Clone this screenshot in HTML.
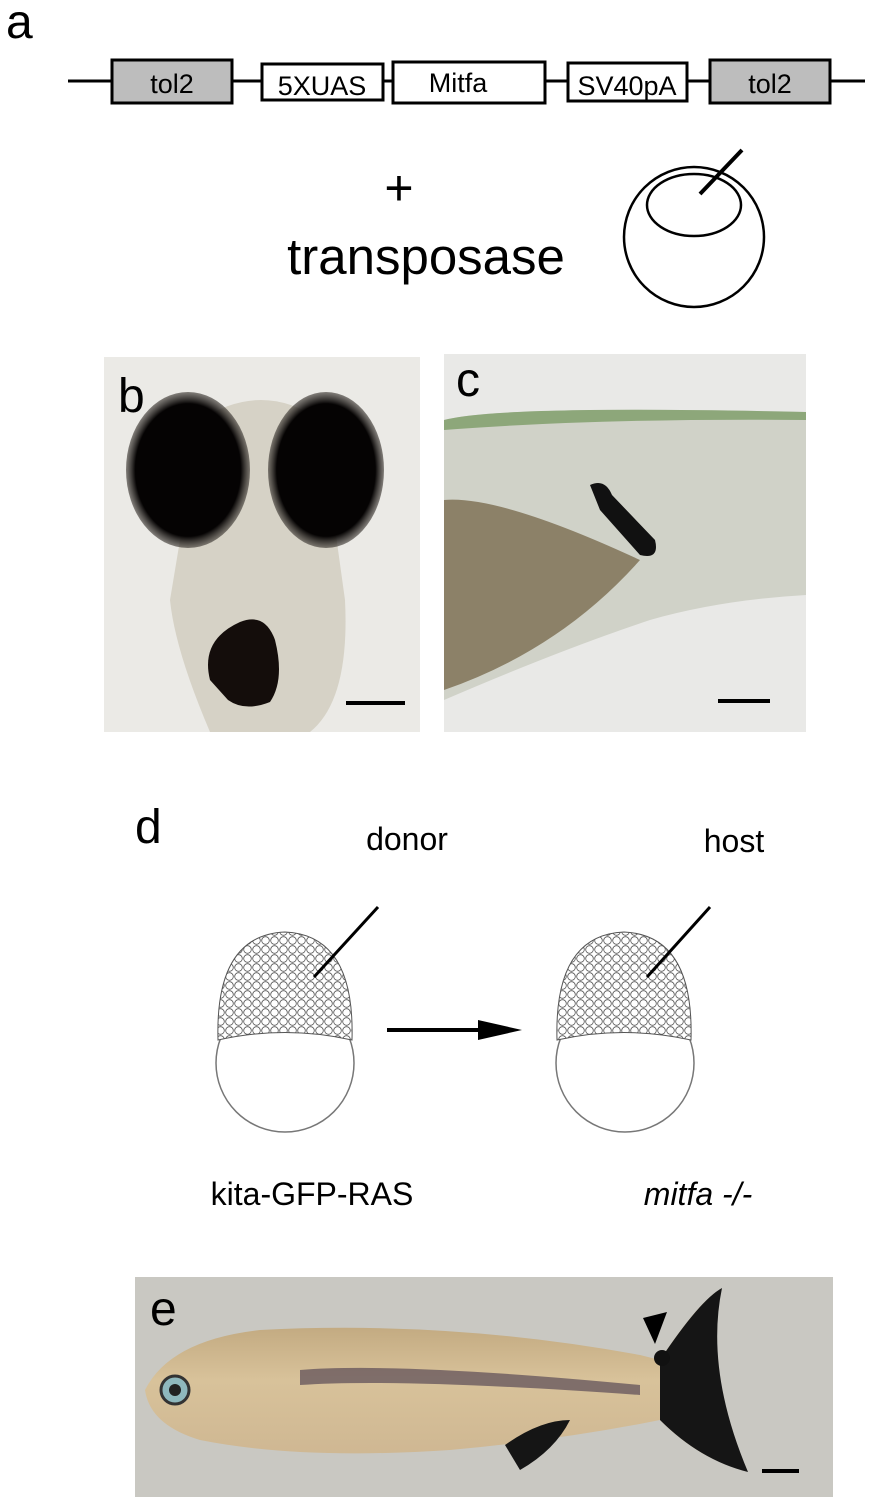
<!DOCTYPE html>
<html><head><style>
body{margin:0;background:#fff;width:887px;height:1507px;overflow:hidden;font-family:"Liberation Sans",sans-serif}
</style></head><body>
<svg width="887" height="1507" viewBox="0 0 887 1507" xmlns="http://www.w3.org/2000/svg" font-family="Liberation Sans, sans-serif">
<defs>
<radialGradient id="eye" cx="50%" cy="50%" r="50%"><stop offset="85%" stop-color="#050303"/><stop offset="100%" stop-color="#3a3530" stop-opacity="0.6"/></radialGradient>
<linearGradient id="fish" x1="0" y1="0" x2="0" y2="1"><stop offset="0" stop-color="#b49a70"/><stop offset="0.5" stop-color="#d8c29a"/><stop offset="1" stop-color="#cdb591"/></linearGradient>
<pattern id="cells" width="9" height="9" patternUnits="userSpaceOnUse"><rect width="9" height="9" fill="#fff"/><circle cx="4.5" cy="4.5" r="3.8" fill="#fff" stroke="#555" stroke-width="0.8"/></pattern>
</defs>
<!-- a -->
<text x="6" y="38" font-size="48">a</text>
<line x1="68" y1="81" x2="865" y2="81" stroke="#000" stroke-width="3"/>
<rect x="112" y="60" width="120" height="43" fill="#bdbdbd" stroke="#000" stroke-width="3"/>
<text x="172" y="93" font-size="27" text-anchor="middle">tol2</text>
<rect x="262" y="64" width="121" height="36" fill="#fff" stroke="#000" stroke-width="3"/>
<text x="322" y="95" font-size="27" text-anchor="middle">5XUAS</text>
<rect x="393" y="62" width="152" height="41" fill="#fff" stroke="#000" stroke-width="3"/>
<text x="458" y="92" font-size="27" text-anchor="middle">Mitfa</text>
<rect x="568" y="63" width="119" height="38" fill="#fff" stroke="#000" stroke-width="3"/>
<text x="627" y="95" font-size="27" text-anchor="middle">SV40pA</text>
<rect x="710" y="60" width="120" height="43" fill="#bdbdbd" stroke="#000" stroke-width="3"/>
<text x="770" y="93" font-size="27" text-anchor="middle">tol2</text>
<text x="399" y="205" font-size="50" text-anchor="middle">+</text>
<text x="426" y="274" font-size="51" text-anchor="middle">transposase</text>
<circle cx="694" cy="237" r="70" fill="none" stroke="#000" stroke-width="2.5"/>
<ellipse cx="694" cy="205" rx="47" ry="31" fill="#fff" stroke="#000" stroke-width="2.5"/>
<line x1="700" y1="194" x2="742" y2="150" stroke="#000" stroke-width="4"/>
<!-- b -->
<rect x="104" y="357" width="316" height="375" fill="#ebeae6"/>
<path d="M200 420 Q262 380 320 420 L345 600 Q350 700 310 732 L210 732 Q175 650 170 600 Z" fill="#d6d2c6"/>
<ellipse cx="188" cy="470" rx="62" ry="78" fill="url(#eye)"/>
<ellipse cx="326" cy="470" rx="58" ry="78" fill="url(#eye)"/>
<path d="M210 680 Q200 640 240 622 Q265 612 275 640 Q285 680 270 702 Q245 712 228 700 Z" fill="#140d0b"/>
<line x1="346" y1="703" x2="405" y2="703" stroke="#000" stroke-width="4"/>
<text x="118" y="412" font-size="48">b</text>
<!-- c -->
<rect x="444" y="354" width="362" height="378" fill="#e9e9e7"/>
<path d="M444 420 Q500 405 806 412 L806 595 Q720 600 650 620 Q560 650 444 700 Z" fill="#d0d2c8"/>
<path d="M444 420 Q500 405 806 412 L806 420 Q600 418 444 430 Z" fill="#8da77a"/>
<path d="M444 500 Q500 495 640 560 Q560 650 444 690 Z" fill="#8c8168"/>
<path d="M590 485 Q605 478 612 495 L655 540 Q660 560 640 555 L600 510 Z" fill="#111"/>
<line x1="718" y1="701" x2="770" y2="701" stroke="#000" stroke-width="4"/>
<text x="456" y="396" font-size="48">c</text>
<!-- d -->
<text x="135" y="843" font-size="48">d</text>
<text x="407" y="850" font-size="32" text-anchor="middle">donor</text>
<text x="734" y="852" font-size="32" text-anchor="middle">host</text>
<circle cx="285" cy="1063" r="69" fill="#fff" stroke="#777" stroke-width="1.5"/>
<path d="M218 1040 Q215 935 285 932 Q355 935 352 1040 Q285 1025 218 1040 Z" fill="url(#cells)" stroke="#555"/>
<line x1="314" y1="977" x2="378" y2="907" stroke="#000" stroke-width="3"/>
<circle cx="625" cy="1063" r="69" fill="#fff" stroke="#777" stroke-width="1.5"/>
<path d="M557 1040 Q554 935 624 932 Q694 935 691 1040 Q624 1025 557 1040 Z" fill="url(#cells)" stroke="#555"/>
<line x1="647" y1="977" x2="710" y2="907" stroke="#000" stroke-width="3"/>
<line x1="387" y1="1030" x2="490" y2="1030" stroke="#000" stroke-width="4"/>
<polygon points="478,1020 522,1030 478,1040" fill="#000"/>
<text x="312" y="1205" font-size="32" text-anchor="middle">kita-GFP-RAS</text>
<text x="698" y="1205" font-size="32" font-style="italic" text-anchor="middle">mitfa -/-</text>
<!-- e -->
<rect x="135" y="1277" width="698" height="220" fill="#c9c8c2"/>
<path d="M145 1390 Q170 1340 260 1330 Q450 1320 640 1355 L660 1360 Q700 1300 720 1290 Q700 1370 745 1470 Q700 1460 660 1420 Q560 1440 450 1450 Q300 1460 200 1440 Q150 1425 145 1390 Z" fill="url(#fish)"/>
<path d="M660 1360 Q700 1300 722 1288 Q705 1370 748 1472 Q700 1460 660 1420 Z" fill="#151515"/>
<path d="M505 1445 Q540 1420 570 1420 Q555 1450 520 1470 Z" fill="#151515"/>
<path d="M300 1370 Q400 1362 640 1385 L640 1395 Q400 1378 300 1385 Z" fill="#5a4a55" opacity="0.7"/>
<circle cx="175" cy="1390" r="14" fill="#8fb8bd" stroke="#333" stroke-width="3"/>
<circle cx="175" cy="1390" r="6" fill="#222"/>
<circle cx="662" cy="1358" r="8" fill="#111"/>
<polygon points="643,1318 667,1312 655,1344" fill="#000"/>
<line x1="762" y1="1471" x2="799" y2="1471" stroke="#000" stroke-width="4"/>
<text x="150" y="1325" font-size="48">e</text>
</svg>
</body></html>
